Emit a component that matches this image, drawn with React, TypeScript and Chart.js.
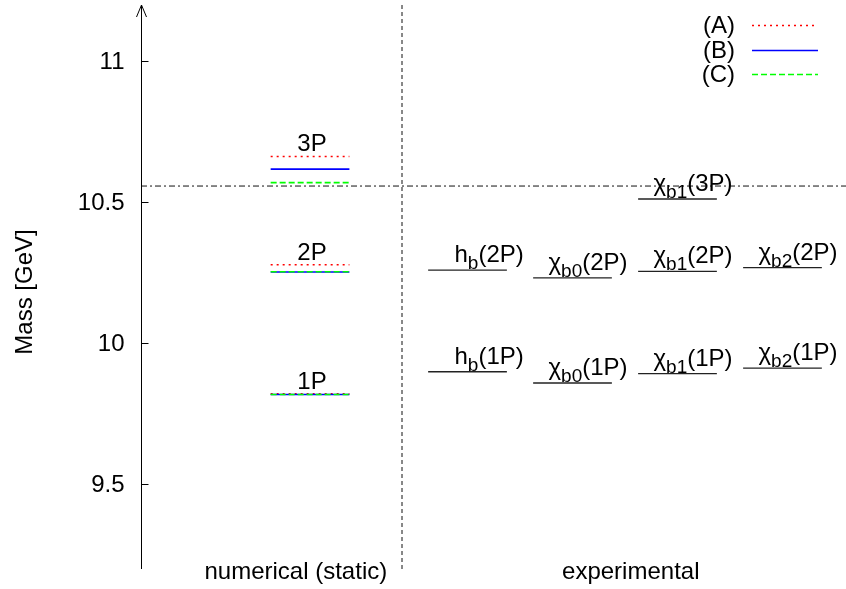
import React, { useEffect, useRef } from "react";
import { Chart, registerables } from "chart.js";

Chart.register(...registerables);

// ---- data ----
const levelNames = ["1P", "2P", "3P"];
const massA = [9.821, 10.279, 10.663];
const massB = [9.819, 10.253, 10.618];
const massC = [9.819, 10.254, 10.570];
const seriesLabels = ["(A)", "(B)", "(C)"];
const seriesColors = ["#ff0000", "#0000ff", "#00ff00"];

const expMain = ["h", "χ", "χ", "χ"];
const expSub = ["b", "b0", "b1", "b2"];
const exp1P = [9.8993, 9.8594, 9.8928, 9.9122];
const exp2P = [10.2598, 10.2325, 10.2555, 10.2687];
const exp3P = [null, null, 10.5121, null];

const threshold = 10.558;
const yTicks = [9.5, 10, 10.5, 11];
const xCategoryLabels = ["numerical (static)", "experimental"];
const yTitle = "Mass [GeV]";

// ---- layout ----
const X_MIN = -0.61;
const X_MAX = 6.105;
const Y_MIN = 9.2;
const Y_MAX = 11.2;
const numX = 1;
const expX = [2.5, 3.5, 4.5, 5.5];
const halfW = 0.375;
const dividerX = 1.876;
const xCategoryPos = [0.865, 4.055];
const FONT = '"Liberation Sans", Arial, Helvetica, sans-serif';

function seg(cx: number, m: number) {
  return [
    { x: cx - halfW, y: m },
    { x: cx + halfW, y: m },
  ];
}

export default function App() {
  const ref = useRef<HTMLCanvasElement | null>(null);

  useEffect(() => {
    const canvas = ref.current;
    if (!canvas) return;

    const datasets: any[] = [];
    const series = [massA, massB, massC];
    const dashes = [[2, 4], [], [6, 3]];
    series.forEach((arr, si) => {
      arr.forEach((m, li) => {
        datasets.push({
          label: seriesLabels[si] + " " + levelNames[li],
          data: seg(numX, m),
          showLine: true,
          borderColor: seriesColors[si],
          borderDash: dashes[si],
          borderWidth: 1.6,
          pointRadius: 0,
          order: 3 - si,
        });
      });
    });
    [exp1P, exp2P, exp3P].forEach((arr) => {
      arr.forEach((m, i) => {
        if (m === null) return;
        datasets.push({
          label: "exp",
          data: seg(expX[i], m as number),
          showLine: true,
          borderColor: "#222222",
          borderWidth: 1.4,
          pointRadius: 0,
          order: 5,
        });
      });
    });
    datasets.push({
      label: "threshold",
      data: [
        { x: X_MIN, y: threshold },
        { x: X_MAX, y: threshold },
      ],
      showLine: true,
      borderColor: "#111111",
      borderDash: [6, 3, 2, 3],
      borderWidth: 1,
      pointRadius: 0,
      order: 6,
    });
    datasets.push({
      label: "divider",
      data: [
        { x: dividerX, y: Y_MIN },
        { x: dividerX, y: Y_MAX },
      ],
      showLine: true,
      borderColor: "#111111",
      borderDash: [4, 3],
      borderWidth: 1,
      pointRadius: 0,
      order: 6,
    });

    const drawRich = (
      ctx: CanvasRenderingContext2D,
      x: number,
      y: number,
      main: string,
      sub: string,
      rest: string
    ) => {
      ctx.textAlign = "left";
      ctx.textBaseline = "alphabetic";
      ctx.font = "24px " + FONT;
      ctx.fillText(main, x, y);
      let cx = x + ctx.measureText(main).width;
      ctx.font = "19px " + FONT;
      ctx.fillText(sub, cx, y + 7);
      cx += ctx.measureText(sub).width;
      ctx.font = "24px " + FONT;
      ctx.fillText(rest, cx, y);
    };

    const decor = {
      id: "decor",
      afterDatasetsDraw(chart: any) {
        const ctx = chart.ctx as CanvasRenderingContext2D;
        const xs = chart.scales.x;
        const ys = chart.scales.y;
        const area = chart.chartArea;
        const ax = Math.round(area.left) + 0.5;
        ctx.save();
        ctx.strokeStyle = "#000";
        ctx.lineWidth = 1;
        ctx.setLineDash([]);
        // axis line + arrow
        ctx.beginPath();
        ctx.moveTo(ax, area.bottom);
        ctx.lineTo(ax, area.top);
        ctx.moveTo(ax - 5, area.top + 12);
        ctx.lineTo(ax, area.top);
        ctx.lineTo(ax + 5, area.top + 12);
        ctx.stroke();
        // ticks
        ctx.fillStyle = "#000";
        ctx.font = "24px " + FONT;
        ctx.textAlign = "right";
        ctx.textBaseline = "middle";
        yTicks.forEach((v) => {
          const py = Math.round(ys.getPixelForValue(v)) + 0.5;
          ctx.beginPath();
          ctx.moveTo(ax, py);
          ctx.lineTo(ax + 7, py);
          ctx.stroke();
          ctx.fillText(String(v), ax - 17, py + 1);
        });
        // y title
        ctx.save();
        ctx.translate(25, (area.top + area.bottom) / 2 + 5);
        ctx.rotate(-Math.PI / 2);
        ctx.textAlign = "center";
        ctx.textBaseline = "middle";
        ctx.fillText(yTitle, 0, 0);
        ctx.restore();
        // x category labels
        ctx.textAlign = "center";
        ctx.textBaseline = "alphabetic";
        xCategoryLabels.forEach((t, i) => {
          ctx.fillText(t, xs.getPixelForValue(xCategoryPos[i]), 579);
        });
        // numerical level labels
        levelNames.forEach((n, i) => {
          const top = Math.max(massA[i], massB[i], massC[i]);
          ctx.textAlign = "center";
          ctx.fillText(n, xs.getPixelForValue(numX) + 2, ys.getPixelForValue(top) - 5);
        });
        // experimental labels
        const groups: [any[], string][] = [
          [exp1P, "(1P)"],
          [exp2P, "(2P)"],
          [exp3P, "(3P)"],
        ];
        groups.forEach(([arr, rest]) => {
          arr.forEach((m: number | null, i: number) => {
            if (m === null) return;
            const cx = xs.getPixelForValue(expX[i]);
            const off = expMain[i] === "h" ? 13 : 24;
            drawRich(ctx, cx - off, ys.getPixelForValue(m) - 8, expMain[i], expSub[i], rest);
          });
        });
        // legend
        const legY = [25, 50, 74];
        seriesLabels.forEach((t, i) => {
          ctx.font = "24px " + FONT;
          ctx.textAlign = "right";
          ctx.textBaseline = "middle";
          ctx.fillStyle = "#000";
          ctx.fillText(t, 735, legY[i] + 1);
          ctx.strokeStyle = seriesColors[i];
          ctx.lineWidth = 1.6;
          ctx.setLineDash(dashes[i]);
          ctx.beginPath();
          ctx.moveTo(752, legY[i] + 0.5);
          ctx.lineTo(818, legY[i] + 0.5);
          ctx.stroke();
        });
        ctx.restore();
      },
    };

    const chart = new Chart(canvas, {
      type: "scatter",
      data: { datasets },
      options: {
        animation: false,
        responsive: false,
        maintainAspectRatio: false,
        layout: { padding: { left: 141, top: 5, right: 0, bottom: 20 } },
        plugins: { legend: { display: false }, tooltip: { enabled: false } },
        scales: {
          x: { type: "linear", min: X_MIN, max: X_MAX, display: false },
          y: { type: "linear", min: Y_MIN, max: Y_MAX, display: false },
        },
      },
      plugins: [decor],
    });
    return () => chart.destroy();
  }, []);

  return (
    <div style={{ position: "fixed", left: 0, top: 0, width: 846, height: 589, background: "#fff" }}>
      <canvas ref={ref} width={846} height={589} />
    </div>
  );
}
